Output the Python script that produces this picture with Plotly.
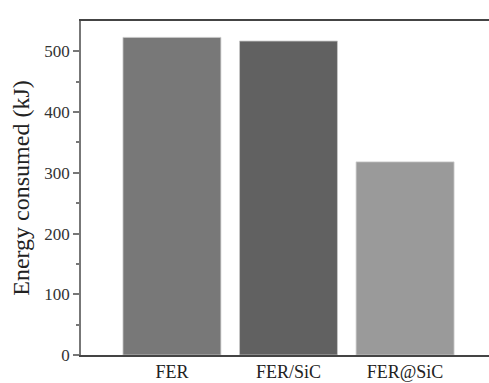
import plotly.graph_objects as go

categories = ["FER", "FER/SiC", "FER@SiC"]
energy_kj = [523, 517, 318]
bar_colors = ["#787878", "#616161", "#9a9a9a"]

fig = go.Figure(go.Bar(
    x=[0, 1, 2], y=energy_kj,
    marker=dict(color=bar_colors, line=dict(color="#c8c8c8", width=0.8)),
    width=0.84,
))

font = "Liberation Serif, Times New Roman, serif"
fig.update_layout(
    width=489, height=383,
    margin=dict(l=81, r=0, t=21, b=28, autoexpand=False),
    paper_bgcolor="white", plot_bgcolor="white",
    showlegend=False,
    font=dict(family=font, color="#222"),
)
fig.update_xaxes(
    range=[-0.78, 2.72],
    tickvals=[0, 1, 2], ticktext=categories,
    tickfont=dict(size=18, family=font, color="#222"),
    showgrid=False, zeroline=False,
    showline=True, linecolor="#444", linewidth=1.5, mirror=True,
    ticks="", ticklabelstandoff=0,
)
fig.update_yaxes(
    range=[0, 550],
    tickvals=[0, 100, 200, 300, 400, 500],
    tickfont=dict(size=17, family=font, color="#333"),
    showgrid=False, zeroline=False,
    showline=True, linecolor="#777", linewidth=1.5,
    ticks="outside", ticklen=6, tickwidth=1.5, tickcolor="#777",
    minor=dict(tickvals=[50, 150, 250, 350, 450], ticks="outside", ticklen=3, tickwidth=1.5, tickcolor="#777"),
    title=dict(text="Energy consumed (kJ)", font=dict(size=24, family=font, color="#222"), standoff=8),
)
fig.write_html(
    "out.html",
    config={"displayModeBar": False},
    post_script="document.body.style.margin='0';document.body.style.overflow='hidden';",
)
